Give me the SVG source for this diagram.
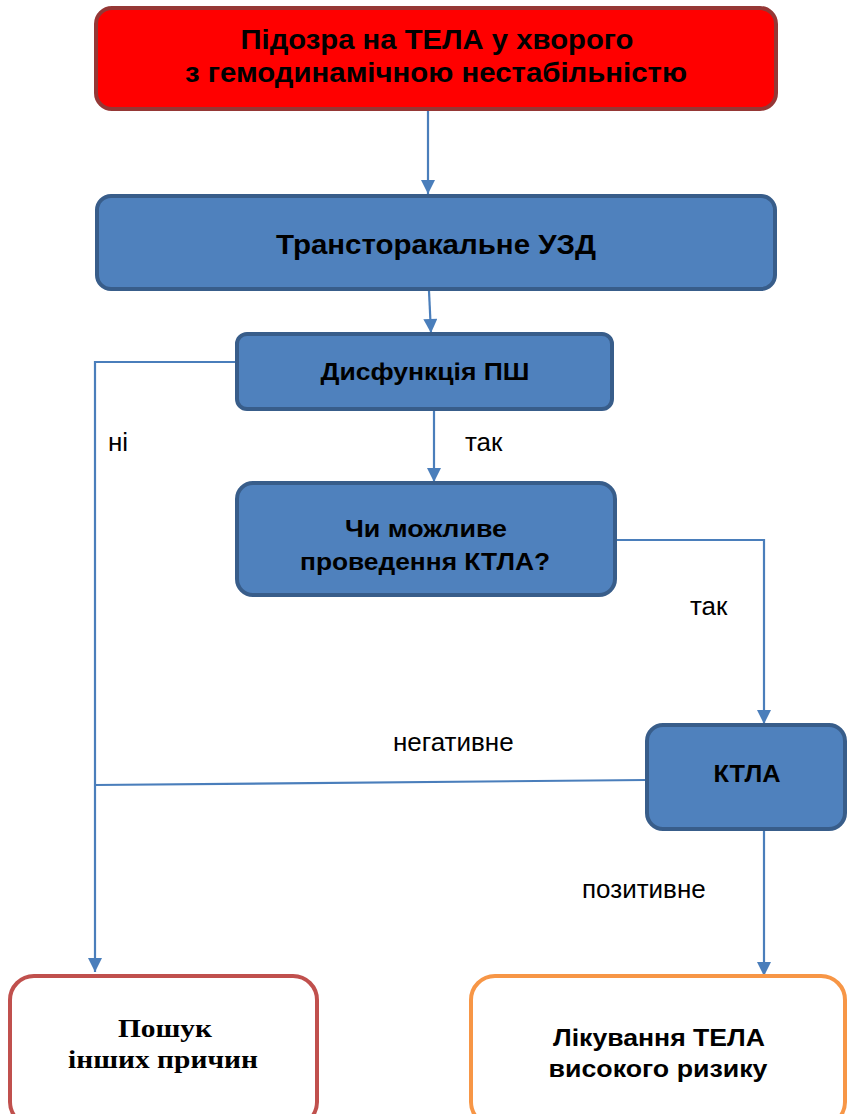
<svg xmlns="http://www.w3.org/2000/svg" width="848" height="1114" viewBox="0 0 848 1114">
<style>
.b{font-family:"Liberation Sans",Arial,sans-serif;font-weight:bold;fill:#000;text-anchor:middle}
.s{font-family:"Liberation Serif","Times New Roman",serif;font-weight:bold;fill:#000;text-anchor:middle}
.l{font-family:"Liberation Sans",Arial,sans-serif;fill:#000;font-size:26px}
.blue{fill:#4F81BD;stroke:#385D8A;stroke-width:4}
.c{fill:none;stroke:#4A7EBB;stroke-width:2.2}
</style>
<defs>
<marker id="ah" viewBox="0 0 14 14" refX="14" refY="7" markerWidth="15" markerHeight="14" markerUnits="userSpaceOnUse" orient="auto">
<path d="M0,0 L14,7 L0,14 z" fill="#4A7EBB"/>
</marker>
</defs>
<g id="connectors">
<path class="c" d="M428,110 L428,194" style="marker-end:url(#ah)"/>
<path class="c" d="M429,291 L431,333" style="marker-end:url(#ah)"/>
<path class="c" d="M236,362 L95,362 L95,972" style="marker-end:url(#ah)"/>
<path class="c" d="M434,410 L434,482" style="marker-end:url(#ah)"/>
<path class="c" d="M616,540 L764,540 L764,724" style="marker-end:url(#ah)"/>
<path class="c" d="M646,780 L95,785"/>
<path class="c" d="M764,830 L764,976" style="marker-end:url(#ah)"/>
<text class="l" x="108" y="451">ні</text>
<text class="l" x="465" y="451">так</text>
<text class="l" x="690" y="615">так</text>
<text class="l" x="393" y="751">негативне</text>
<text class="l" x="582" y="898">позитивне</text>
</g>
<g id="n1">
<rect x="96" y="8" width="680" height="101" rx="16" fill="#FF0000" stroke="#953735" stroke-width="4"/>
<text class="b" x="437" y="49" font-size="27" textLength="393" lengthAdjust="spacingAndGlyphs">Підозра на ТЕЛА у хворого</text>
<text class="b" x="436" y="82" font-size="27" textLength="502" lengthAdjust="spacingAndGlyphs">з гемодинамічною нестабільністю</text>
</g>
<g id="n2">
<rect class="blue" x="97" y="196" width="678" height="93" rx="14"/>
<text class="b" x="436" y="254" font-size="27" textLength="320" lengthAdjust="spacingAndGlyphs">Трансторакальне УЗД</text>
</g>
<g id="n3">
<rect class="blue" x="237" y="334" width="375" height="75" rx="10"/>
<text class="b" x="425" y="380" font-size="24" textLength="209" lengthAdjust="spacingAndGlyphs">Дисфункція ПШ</text>
</g>
<g id="n4">
<rect class="blue" x="237" y="483" width="378" height="112" rx="16"/>
<text class="b" x="426" y="537" font-size="23" textLength="162" lengthAdjust="spacingAndGlyphs">Чи можливе</text>
<text class="b" x="425" y="570" font-size="23" textLength="250" lengthAdjust="spacingAndGlyphs">проведення КТЛА?</text>
</g>
<g id="n5">
<rect class="blue" x="647" y="725" width="198" height="104" rx="16"/>
<text class="b" x="747" y="782" font-size="23" textLength="67" lengthAdjust="spacingAndGlyphs">КТЛА</text>
</g>
<g id="n6">
<rect x="10" y="976" width="307" height="150" rx="24" fill="#FFFFFF" stroke="#C0504D" stroke-width="4"/>
<text class="s" x="165" y="1037" font-size="26" textLength="94" lengthAdjust="spacingAndGlyphs">Пошук</text>
<text class="s" x="163" y="1068" font-size="26" textLength="190" lengthAdjust="spacingAndGlyphs">інших причин</text>
</g>
<g id="n7">
<rect x="471" y="976" width="374" height="150" rx="24" fill="#FFFFFF" stroke="#F79646" stroke-width="4"/>
<text class="b" x="659" y="1046" font-size="24" textLength="212" lengthAdjust="spacingAndGlyphs">Лікування ТЕЛА</text>
<text class="b" x="658" y="1077" font-size="24" textLength="219" lengthAdjust="spacingAndGlyphs">високого ризику</text>
</g>
</svg>
